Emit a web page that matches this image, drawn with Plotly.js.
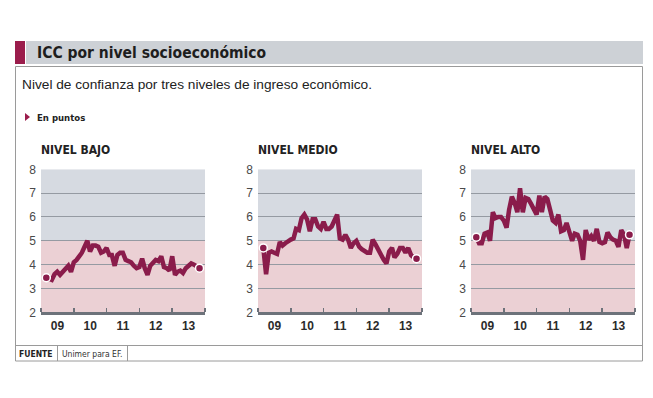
<!DOCTYPE html>
<html>
<head>
<meta charset="utf-8">
<script src="https://cdn.plot.ly/plotly-3.0.1.min.js"></script>
<style>
html,body{margin:0;padding:0;background:#fff;}
#chart{width:653px;height:398px;}
</style>
</head>
<body>
<div id="chart"></div>
<script>
// Monthly series, March 2009 to November 2013
const startYear = 2009;
const startMonth = 3; // March
const panelTitles = ["NIVEL BAJO", "NIVEL MEDIO", "NIVEL ALTO"];
const yTicks = [2, 3, 4, 5, 6, 7, 8];
const xTickLabels = ["09", "10", "11", "12", "13"];

const nivelBajo = [3.45,3.4,3.36,3.6,3.7,3.57,3.7,3.8,3.95,3.7,4.1,4.2,4.35,4.5,4.75,5.0,4.55,4.8,4.8,4.75,
  4.5,4.55,4.7,4.4,4.4,3.95,4.4,4.5,4.5,4.2,4.15,4.1,3.95,3.85,3.9,4.25,3.85,3.57,3.95,4.1,
  4.2,4.15,4.35,3.9,3.85,3.75,4.35,3.57,3.7,3.75,3.65,3.85,3.95,4.05,4.0,3.95,3.85];
const nivelMedio = [4.7,3.6,4.5,4.55,4.5,4.45,4.95,4.8,4.9,5.0,5.05,5.1,5.5,5.45,5.95,6.1,5.9,5.4,5.9,5.9,
  5.6,5.5,5.8,5.5,5.5,5.6,5.9,6.1,5.1,5.05,5.25,5.05,4.7,4.9,5.0,4.75,4.65,4.55,4.5,4.5,
  5.05,4.85,4.6,4.4,4.2,4.05,4.55,4.7,4.3,4.45,4.7,4.7,4.5,4.7,4.4,4.3,4.25];
const nivelAlto = [5.15,4.9,4.9,5.3,5.35,5.0,6.2,5.95,6.0,6.0,5.85,5.55,6.3,6.85,6.6,6.2,7.2,6.2,6.8,6.75,
  6.55,6.35,6.1,6.9,6.2,6.85,6.75,6.3,5.85,5.75,6.1,5.4,5.45,5.75,5.35,5.0,5.3,5.25,5.0,4.2,
  5.45,5.05,5.2,5.0,5.5,4.95,4.9,4.95,5.35,5.15,5.05,5.0,4.75,5.45,5.25,4.7,5.25];

const seriesList = [nivelBajo, nivelMedio, nivelAlto];

function monthDate(i) {
  const total = (startMonth - 1) + i;
  const y = startYear + Math.floor(total / 12);
  const m = (total % 12) + 1;
  return y + "-" + String(m).padStart(2, "0") + "-01";
}

const W = 653, H = 398;
const px = v => v / W;
const py = v => 1 - v / H;

const crimson = "#8a1c4b";
const narrow = "DejaVu Sans Condensed, DejaVu Sans, sans-serif";
const panelX = [[41, 205], [258, 422], [471, 635]];
const plotTop = 169.3, plotBottom = 312.3;

const data = [];
const layout = {
  width: W, height: H,
  margin: {l: 0, r: 0, t: 0, b: 0},
  paper_bgcolor: "#ffffff",
  plot_bgcolor: "rgba(0,0,0,0)",
  showlegend: false,
  shapes: [],
  annotations: []
};

seriesList.forEach((vals, k) => {
  const n = k + 1;
  const xa = n === 1 ? "x" : "x" + n;
  const ya = n === 1 ? "y" : "y" + n;
  const xs = vals.map((_, i) => monthDate(i));
  data.push({
    x: xs, y: vals, xaxis: xa, yaxis: ya, type: "scatter", mode: "lines",
    line: {color: crimson, width: 4.5, shape: "linear"}, hoverinfo: "skip"
  });
  data.push({
    x: [xs[0], xs[xs.length - 1]], y: [vals[0], vals[vals.length - 1]],
    xaxis: xa, yaxis: ya, type: "scatter", mode: "markers",
    marker: {color: crimson, size: 8, line: {color: "#ffffff", width: 1.5}}, hoverinfo: "skip"
  });
  const xKey = n === 1 ? "xaxis" : "xaxis" + n;
  const yKey = n === 1 ? "yaxis" : "yaxis" + n;
  layout[xKey] = {
    domain: [px(panelX[k][0]), px(panelX[k][1])],
    anchor: ya, type: "date",
    range: ["2009-01-01", "2014-01-01"],
    tick0: "2009-01-01", dtick: "M12",
    tickformat: "%y",
    ticklabelmode: "period",
    ticks: "inside", ticklen: 4, tickwidth: 1.5, tickcolor: "#6d727a",
    showline: true, linecolor: "#6d727a", linewidth: 3,
    showgrid: false, zeroline: false, fixedrange: true,
    tickfont: {family: "Liberation Sans, Arial, sans-serif", size: 12, color: "#2b2b2b", weight: "bold"}
  };
  layout[yKey] = {
    domain: [py(plotBottom), py(plotTop)],
    anchor: xa, range: [2, 8],
    tickvals: yTicks, ticks: "", showgrid: true,
    gridcolor: "#959aa2", gridwidth: 1, zeroline: false, showline: false,
    fixedrange: true, ticklabelstandoff: 4,
    tickfont: {family: "Liberation Sans, Arial, sans-serif", size: 12, color: "#4a4a4a"}
  };
  // background bands
  layout.shapes.push({type: "rect", xref: xa + " domain", yref: ya, x0: 0, x1: 1, y0: 5, y1: 8,
    fillcolor: "#d6dae1", line: {width: 0}, layer: "below"});
  layout.shapes.push({type: "rect", xref: xa + " domain", yref: ya, x0: 0, x1: 1, y0: 2, y1: 5,
    fillcolor: "#ebd0d4", line: {width: 0}, layer: "below"});
  layout.annotations.push({text: panelTitles[k], xref: "paper", yref: "paper",
    x: px(panelX[k][0] - 2), y: py(150), xanchor: "left", yanchor: "middle", showarrow: false,
    font: {family: narrow, size: 12, color: "#222", weight: "bold"}});
});

// Title bar
layout.shapes.push({type: "rect", xref: "paper", yref: "paper", x0: px(15), x1: px(25), y0: py(64), y1: py(41),
  fillcolor: "#9b1d4c", line: {width: 0}});
layout.shapes.push({type: "rect", xref: "paper", yref: "paper", x0: px(26), x1: px(643), y0: py(64), y1: py(41),
  fillcolor: "#cdd1d6", line: {width: 0}});
// Outer box
layout.shapes.push({type: "rect", xref: "paper", yref: "paper", x0: px(15.5), x1: px(642.5), y0: py(361), y1: py(66.5),
  fillcolor: "rgba(0,0,0,0)", line: {color: "#9a9a9a", width: 1}});
// Footer lines
layout.shapes.push({type: "line", xref: "paper", yref: "paper", x0: px(15.5), x1: px(642.5), y0: py(345.5), y1: py(345.5),
  line: {color: "#9a9a9a", width: 1}});
layout.shapes.push({type: "line", xref: "paper", yref: "paper", x0: px(57.5), x1: px(57.5), y0: py(361), y1: py(345.5),
  line: {color: "#9a9a9a", width: 1}});
layout.shapes.push({type: "line", xref: "paper", yref: "paper", x0: px(127.5), x1: px(127.5), y0: py(361), y1: py(345.5),
  line: {color: "#9a9a9a", width: 1}});
// small triangle
layout.shapes.push({type: "path", xref: "paper", yref: "paper",
  path: "M " + px(25) + " " + py(113) + " L " + px(30) + " " + py(117) + " L " + px(25) + " " + py(121) + " Z",
  fillcolor: "#9b1d4c", line: {width: 0}});

layout.annotations.push({text: "ICC por nivel socioeconómico", xref: "paper", yref: "paper",
  x: px(35), y: py(53), xanchor: "left", yanchor: "middle", showarrow: false,
  font: {family: narrow, size: 15.5, color: "#1e1e1e", weight: "bold"}});
layout.annotations.push({text: "Nivel de confianza por tres niveles de ingreso económico.", xref: "paper", yref: "paper",
  x: px(20), y: py(85), xanchor: "left", yanchor: "middle", showarrow: false,
  font: {family: "Liberation Sans, Arial, sans-serif", size: 13.7, color: "#222"}});
layout.annotations.push({text: "En puntos", xref: "paper", yref: "paper",
  x: px(35), y: py(117), xanchor: "left", yanchor: "middle", showarrow: false,
  font: {family: narrow, size: 9.5, color: "#222", weight: "bold"}});
layout.annotations.push({text: "FUENTE", xref: "paper", yref: "paper",
  x: px(17), y: py(353.5), xanchor: "left", yanchor: "middle", showarrow: false,
  font: {family: narrow, size: 8.5, color: "#222", weight: "bold"}});
layout.annotations.push({text: "Unimer para EF.", xref: "paper", yref: "paper",
  x: px(60), y: py(353.5), xanchor: "left", yanchor: "middle", showarrow: false,
  font: {family: narrow, size: 8.5, color: "#333"}});

Plotly.newPlot("chart", data, layout, {staticPlot: true, displayModeBar: false});
</script>
</body>
</html>
